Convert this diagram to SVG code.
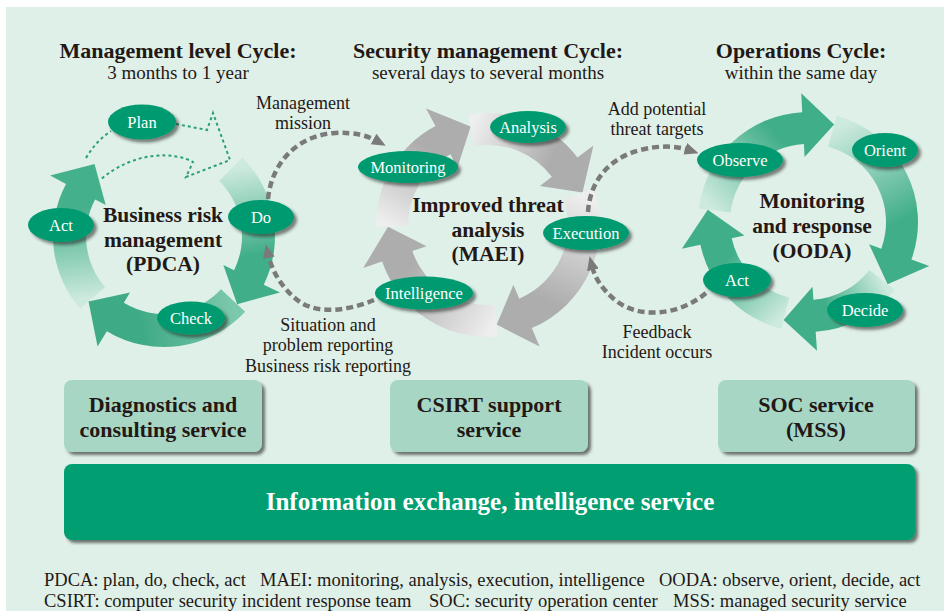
<svg xmlns="http://www.w3.org/2000/svg" width="944" height="614" viewBox="0 0 944 614">
  <style>
    text { font-family: "Liberation Serif", "Times New Roman", serif; fill: #231815; }
    .title { font-size: 22px; font-weight: bold; text-anchor: middle; }
    .sub { font-size: 19px; text-anchor: middle; }
    .lbl { font-size: 18px; text-anchor: middle; }
    .center { font-size: 21.5px; font-weight: bold; text-anchor: middle; }
    .node ellipse { fill: #009a6f; filter: url(#shadow); }
    .node text { fill: #ffffff; font-size: 16.5px; text-anchor: middle; }
    .svc rect { fill: #a7d7c4; filter: url(#boxshadow); }
    .svc text { font-size: 22px; font-weight: bold; text-anchor: middle; }
    .bar rect { fill: #009e71; filter: url(#boxshadow); }
    .bar text { fill: #ffffff; font-size: 25px; font-weight: bold; text-anchor: middle; }
    .foot { font-size: 18.5px; }
    .flow { fill: none; stroke: #7a7a7a; stroke-width: 4.5; stroke-dasharray: 7 4; marker-end: url(#grayhead); }
    .plandash { fill: none; stroke: #2a9f7a; stroke-width: 2; stroke-dasharray: 3 3; }
  </style>
  <defs>
    <filter id="shadow" x="-20%" y="-30%" width="150%" height="170%">
      <feDropShadow dx="3" dy="3" stdDeviation="1.8" flood-color="#1a1a1a" flood-opacity="0.55"/>
    </filter>
    <filter id="boxshadow" x="-10%" y="-10%" width="130%" height="130%">
      <feDropShadow dx="3" dy="3" stdDeviation="1.5" flood-color="#1a1a1a" flood-opacity="0.6"/>
    </filter>
    <marker id="grayhead" markerUnits="userSpaceOnUse" markerWidth="14" markerHeight="14" viewBox="0 0 14 14" refX="4" refY="7" orient="auto">
      <path d="M0,1 L14,7 L0,13 z" fill="#7a7a7a" stroke="none"/>
    </marker>
    <!-- green ring segments: light tail to dark head -->
    <linearGradient id="gL1" gradientUnits="userSpaceOnUse" x1="230.8" y1="169.2" x2="248.9" y2="277.4"><stop offset="0" stop-color="#cdeade"/><stop offset="0.8" stop-color="#41ae8a"/></linearGradient>
    <linearGradient id="gL2" gradientUnits="userSpaceOnUse" x1="233.1" y1="300.4" x2="115.3" y2="317.0"><stop offset="0" stop-color="#7cc8ad"/><stop offset="0.8" stop-color="#3faa86"/></linearGradient>
    <linearGradient id="gL3" gradientUnits="userSpaceOnUse" x1="92.7" y1="298.0" x2="80.6" y2="191.6"><stop offset="0" stop-color="#cdeade"/><stop offset="0.85" stop-color="#45b08c"/></linearGradient>
    <linearGradient id="gR1" gradientUnits="userSpaceOnUse" x1="714.7" y1="210.5" x2="803.1" y2="128.1"><stop offset="0" stop-color="#cdeade"/><stop offset="0.8" stop-color="#41ae8a"/></linearGradient>
    <linearGradient id="gR2" gradientUnits="userSpaceOnUse" x1="832.3" y1="131.2" x2="896.3" y2="254.1"><stop offset="0" stop-color="#cdeade"/><stop offset="0.8" stop-color="#41ae8a"/></linearGradient>
    <linearGradient id="gR3" gradientUnits="userSpaceOnUse" x1="882.1" y1="279.9" x2="814.6" y2="315.8"><stop offset="0" stop-color="#cdeade"/><stop offset="0.8" stop-color="#41ae8a"/></linearGradient>
    <linearGradient id="gR4" gradientUnits="userSpaceOnUse" x1="785.3" y1="313.2" x2="716.1" y2="241.5"><stop offset="0" stop-color="#cdeade"/><stop offset="0.8" stop-color="#41ae8a"/></linearGradient>
    <!-- gray ring segments -->
    <linearGradient id="gM1" gradientUnits="userSpaceOnUse" x1="496.4" y1="320.6" x2="397.2" y2="256.3"><stop offset="0" stop-color="#eeeeee"/><stop offset="0.85" stop-color="#adadad"/></linearGradient>
    <linearGradient id="gM2" gradientUnits="userSpaceOnUse" x1="392.0" y1="226.7" x2="442.9" y2="140.2"><stop offset="0" stop-color="#eeeeee"/><stop offset="0.85" stop-color="#adadad"/></linearGradient>
    <linearGradient id="gM3" gradientUnits="userSpaceOnUse" x1="471.3" y1="130.5" x2="564.7" y2="167.2"><stop offset="0" stop-color="#eeeeee"/><stop offset="0.85" stop-color="#adadad"/></linearGradient>
    <linearGradient id="gM4" gradientUnits="userSpaceOnUse" x1="578.8" y1="193.7" x2="525.5" y2="313.4"><stop offset="0" stop-color="#eeeeee"/><stop offset="0.85" stop-color="#adadad"/></linearGradient>
  </defs>

  <!-- background panel -->
  <rect x="6" y="7" width="938" height="604" fill="#dff0e8"/>

  <!-- column headings -->
  <g id="headings">
    <text class="title" x="178" y="58">Management level Cycle:</text>
    <text class="sub" x="178" y="79">3 months to 1 year</text>
    <text class="title" x="488" y="58">Security management Cycle:</text>
    <text class="sub" x="488" y="79">several days to several months</text>
    <text class="title" x="801" y="58">Operations Cycle:</text>
    <text class="sub" x="801" y="79">within the same day</text>
  </g>

  <!-- PDCA ring -->
  <g id="ring-pdca">
    <path d="M80.23,308.83 A111,111 0 0 1 66.0,183.89 L50.11,175.43 L94.53,164.07 L105.73,205.01 L95.13,199.38 A78,78 0 0 0 105.13,287.18 Z" fill="url(#gL3)"/>
    <path d="M245.19,311.70 A111,111 0 0 1 106.83,331.15 L97.56,346.58 L88.53,301.61 L130.01,292.58 L123.83,302.86 A78,78 0 0 0 221.05,289.20 Z" fill="url(#gL2)"/>
    <path d="M242.49,157.51 A111,111 0 0 1 263.77,284.66 L279.95,292.55 L237.14,304.20 L223.32,264.93 L234.11,270.20 A78,78 0 0 0 219.15,180.85 Z" fill="url(#gL1)"/>
    <!-- dashed outline of the Plan step -->
    <path class="plandash" d="M86,158 Q96,141 111,131"/>
    <path class="plandash" d="M176,124 L207,130 L213,113 L230,160 L186,177 L193,162 C175,152 135,150 100,180"/>
  </g>

  <!-- MAEI ring -->
  <g id="ring-maei">
    <path d="M497.77,336.57 A112,112 0 0 1 382.10,261.47 L363.19,267.98 L388.02,226.75 L426.54,246.16 L412.36,251.05 A80,80 0 0 0 494.97,304.70 Z" fill="url(#gM1)"/>
    <path d="M376.02,226.95 A112,112 0 0 1 435.42,126.12 L426.03,108.46 L470.64,126.52 L457.48,167.61 L450.44,154.37 A80,80 0 0 0 408.01,226.40 Z" fill="url(#gM2)"/>
    <path d="M468.55,114.70 A112,112 0 0 1 577.44,157.60 L593.42,145.56 L582.55,192.44 L539.91,185.88 L551.89,176.86 A80,80 0 0 0 474.11,146.22 Z" fill="url(#gM3)"/>
    <path d="M593.90,188.53 A112,112 0 0 1 531.76,328.10 L539.57,346.51 L496.72,324.62 L513.40,284.83 L519.26,298.64 A80,80 0 0 0 563.64,198.95 Z" fill="url(#gM4)"/>
  </g>

  <!-- OODA ring -->
  <g id="ring-ooda">
    <path d="M698.82,208.59 A110,110 0 0 1 802.24,112.15 L801.25,93.18 L834.14,124.44 L804.60,157.09 L803.92,144.11 A78,78 0 0 0 730.58,212.49 Z" fill="url(#gR1)"/>
    <path d="M836.47,115.75 A110,110 0 0 1 911.37,259.62 L929.22,266.12 L887.59,284.19 L869.08,244.23 L881.30,248.68 A78,78 0 0 0 828.19,146.66 Z" fill="url(#gR2)"/>
    <path d="M894.68,289.73 A110,110 0 0 1 815.67,331.73 L817.00,350.69 L783.57,320.00 L812.53,286.84 L813.44,299.81 A78,78 0 0 0 869.46,270.02 Z" fill="url(#gR3)"/>
    <path d="M781.39,328.73 A110,110 0 0 1 700.41,244.87 L681.83,248.82 L707.76,209.69 L744.42,235.51 L731.71,238.22 A78,78 0 0 0 789.13,297.68 Z" fill="url(#gR4)"/>
  </g>

  <!-- dashed links between the cycles -->
  <g id="connectors">
    <path class="flow" d="M268,199 C272,160 300,135 335,133 C355,132 368,136 377,141"/>
    <path class="flow" d="M374,300 C350,310 320,315 300,302 C283,290 272,272 268,254"/>
    <path class="flow" d="M588,212 C590,180 610,158 640,150 C660,145 677,146 689,150"/>
    <path class="flow" d="M706,293 C680,315 640,320 615,300 C601,288 595,278 592,266"/>
  </g>

  <!-- cycle centre titles -->
  <g id="cycle-titles">
    <text class="center" x="163" y="222">Business risk</text>
    <text class="center" x="163" y="247">management</text>
    <text class="center" x="163" y="271">(PDCA)</text>
    <text class="center" x="488" y="212">Improved threat</text>
    <text class="center" x="488" y="237">analysis</text>
    <text class="center" x="488" y="261">(MAEI)</text>
    <text class="center" x="812" y="208">Monitoring</text>
    <text class="center" x="812" y="233">and response</text>
    <text class="center" x="812" y="258">(OODA)</text>
  </g>

  <!-- connector labels -->
  <g id="connector-labels">
    <text class="lbl" x="303" y="109">Management</text>
    <text class="lbl" x="303" y="129">mission</text>
    <text class="lbl" x="328" y="331">Situation and</text>
    <text class="lbl" x="328" y="351">problem reporting</text>
    <text class="lbl" x="328" y="372">Business risk reporting</text>
    <text class="lbl" x="657" y="115">Add potential</text>
    <text class="lbl" x="657" y="135">threat targets</text>
    <text class="lbl" x="657" y="338">Feedback</text>
    <text class="lbl" x="657" y="358">Incident occurs</text>
  </g>

  <!-- PDCA steps -->
  <g id="plan" class="node"><ellipse cx="142" cy="122" rx="34" ry="17.5"/><text x="142" y="128">Plan</text></g>
  <g id="do" class="node"><ellipse cx="261" cy="217" rx="33" ry="17"/><text x="261" y="223">Do</text></g>
  <g id="check" class="node"><ellipse cx="191" cy="318" rx="34" ry="16.5"/><text x="191" y="324">Check</text></g>
  <g id="act-pdca" class="node"><ellipse cx="61" cy="225" rx="33" ry="17"/><text x="61" y="231">Act</text></g>

  <!-- MAEI steps -->
  <g id="monitoring" class="node"><ellipse cx="408" cy="167" rx="50" ry="16"/><text x="408" y="173">Monitoring</text></g>
  <g id="analysis" class="node"><ellipse cx="528" cy="127" rx="38" ry="16"/><text x="528" y="133">Analysis</text></g>
  <g id="execution" class="node"><ellipse cx="586" cy="233" rx="43" ry="17"/><text x="586" y="239">Execution</text></g>
  <g id="intelligence" class="node"><ellipse cx="424" cy="293" rx="49" ry="16.5"/><text x="424" y="299">Intelligence</text></g>

  <!-- OODA steps -->
  <g id="observe" class="node"><ellipse cx="740" cy="160" rx="43" ry="17"/><text x="740" y="166">Observe</text></g>
  <g id="orient" class="node"><ellipse cx="885" cy="150" rx="33" ry="17"/><text x="885" y="156">Orient</text></g>
  <g id="decide" class="node"><ellipse cx="865" cy="310" rx="38" ry="17"/><text x="865" y="316">Decide</text></g>
  <g id="act-ooda" class="node"><ellipse cx="737" cy="280" rx="34" ry="17"/><text x="737" y="286">Act</text></g>

  <!-- service boxes -->
  <g id="svc-diagnostics" class="svc">
    <rect x="64" y="380" width="198" height="72" rx="8"/>
    <text x="163" y="412">Diagnostics and</text>
    <text x="163" y="437">consulting service</text>
  </g>
  <g id="svc-csirt" class="svc">
    <rect x="390" y="380" width="198" height="72" rx="8"/>
    <text x="489" y="412">CSIRT support</text>
    <text x="489" y="437">service</text>
  </g>
  <g id="svc-soc" class="svc">
    <rect x="718" y="380" width="197" height="72" rx="8"/>
    <text x="816" y="412">SOC service</text>
    <text x="816" y="437">(MSS)</text>
  </g>
  <g id="svc-info" class="bar">
    <rect x="64" y="464" width="851" height="76" rx="8"/>
    <text x="490" y="510">Information exchange, intelligence service</text>
  </g>

  <!-- abbreviations -->
  <g id="legend">
    <text class="foot" x="44" y="586">PDCA: plan, do, check, act</text>
    <text class="foot" x="260" y="586">MAEI: monitoring, analysis, execution, intelligence</text>
    <text class="foot" x="659" y="586">OODA: observe, orient, decide, act</text>
    <text class="foot" x="44" y="607">CSIRT: computer security incident response team</text>
    <text class="foot" x="429" y="607">SOC: security operation center</text>
    <text class="foot" x="673" y="607">MSS: managed security service</text>
  </g>
</svg>
